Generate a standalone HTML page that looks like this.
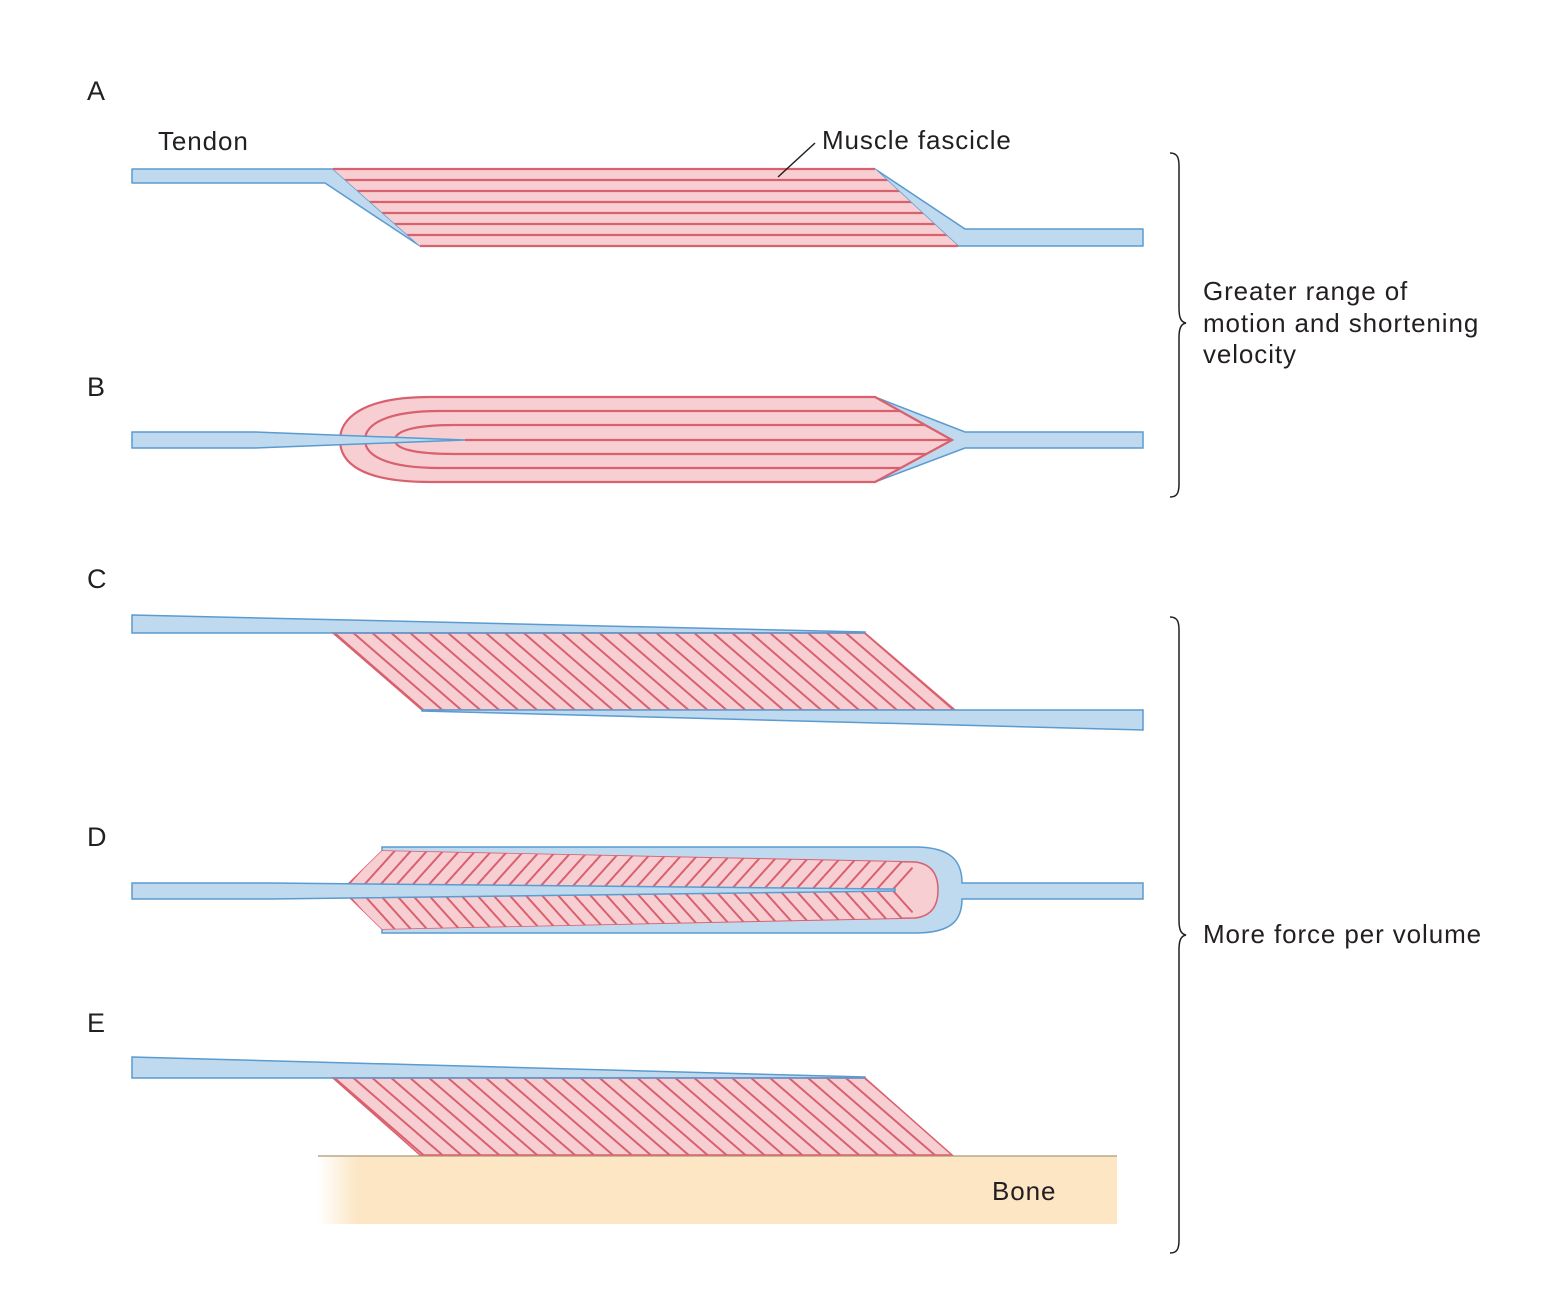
<!DOCTYPE html>
<html><head><meta charset="utf-8"><style>
html,body{margin:0;padding:0;background:#fff;}
svg{display:block;}
text{font-family:"Liberation Sans",sans-serif;fill:#231f20;}
</style></head><body>
<svg width="1563" height="1290" viewBox="0 0 1563 1290" xmlns="http://www.w3.org/2000/svg">
<defs>
<pattern id="pc" width="12.4" height="20" patternUnits="userSpaceOnUse" patternTransform="translate(333,633) rotate(-49.1)">
<rect width="12.4" height="20" fill="#f7cfd2"/><line x1="1" y1="0" x2="1" y2="20" stroke="#d9606e" stroke-width="2"/></pattern>
<pattern id="pe" width="12.4" height="20" patternUnits="userSpaceOnUse" patternTransform="translate(333,1078) rotate(-49.1)">
<rect width="12.4" height="20" fill="#f7cfd2"/><line x1="1" y1="0" x2="1" y2="20" stroke="#d9606e" stroke-width="2"/></pattern>
<pattern id="pdt" width="12" height="20" patternUnits="userSpaceOnUse" patternTransform="translate(342,890) rotate(42)">
<rect width="12" height="20" fill="#f7cfd2"/><line x1="1" y1="0" x2="1" y2="20" stroke="#d9606e" stroke-width="2"/></pattern>
<pattern id="pdb" width="12" height="20" patternUnits="userSpaceOnUse" patternTransform="translate(342,890) rotate(-42)">
<rect width="12" height="20" fill="#f7cfd2"/><line x1="1" y1="0" x2="1" y2="20" stroke="#d9606e" stroke-width="2"/></pattern>
<linearGradient id="bone" x1="0" x2="1" y1="0" y2="0">
<stop offset="0" stop-color="#fce6c4" stop-opacity="0"/><stop offset="0.05" stop-color="#fce6c4"/><stop offset="1" stop-color="#fce6c4"/></linearGradient>
<clipPath id="cA"><path d="M333,169 H875 L958,246 H420 Z"/></clipPath>
<clipPath id="cB"><path d="M875,397 H430 C360,397 340,420 340,440 C340,462 360,482 430,482 H875 L952,440 Z"/></clipPath>
<clipPath id="cDt"><rect x="300" y="840" width="700" height="50"/></clipPath>
<clipPath id="cDb"><rect x="300" y="890" width="700" height="50"/></clipPath>
</defs>

<!-- A -->
<g stroke="#5a9bd0" stroke-width="1.5" fill="#bfd9ee" stroke-linejoin="round">
<path d="M132,169 H333 L420,246 L325,183 H132 Z"/>
<path d="M875,169 L965,229 H1143 V246 H958 Z"/>
</g>
<path d="M333,169 H875 L958,246 H420 Z" fill="#f7cfd2"/>
<g clip-path="url(#cA)" stroke="#d9606e" stroke-width="2.2">
<line x1="300" y1="180" x2="1000" y2="180"/><line x1="300" y1="191" x2="1000" y2="191"/>
<line x1="300" y1="202" x2="1000" y2="202"/><line x1="300" y1="213" x2="1000" y2="213"/>
<line x1="300" y1="224" x2="1000" y2="224"/><line x1="300" y1="235" x2="1000" y2="235"/>
</g>
<line x1="333" y1="169" x2="875" y2="169" stroke="#d9606e" stroke-width="2.2"/>
<line x1="420" y1="246" x2="958" y2="246" stroke="#d9606e" stroke-width="2.2"/>

<!-- B -->
<path d="M875,397 L965,432 H1143 V448 H965 L875,482 Z" fill="#bfd9ee" stroke="#5a9bd0" stroke-width="1.5"/>
<path d="M875,397 H430 C360,397 340,420 340,440 C340,462 360,482 430,482 H875 L952,440 Z" fill="#f7cfd2" stroke="#d9606e" stroke-width="2.2"/>
<g clip-path="url(#cB)" fill="none" stroke="#d9606e" stroke-width="2.2">
<path d="M1000,411 H440 C385,411 365,425 365,440 C365,455 385,468 440,468 H1000"/>
<path d="M1000,425 H455 C410,425 395,432 395,440 C395,448 410,454 455,454 H1000"/>
<path d="M465,440 H1000"/>
</g>
<path d="M132,432 H255 L465,440 L255,448 H132 Z" fill="#bfd9ee" stroke="#5a9bd0" stroke-width="1.5"/>

<!-- C -->
<path d="M132,615 L865,632 L865,633 L132,633 Z" fill="#bfd9ee" stroke="#5a9bd0" stroke-width="1.5"/>
<path d="M333,633 H865 L955,710 H422 Z" fill="url(#pc)" stroke="#d9606e" stroke-width="1.5"/>
<path d="M422,710 H1143 V730 L422,711 Z" fill="#bfd9ee" stroke="#5a9bd0" stroke-width="1.5"/>
<line x1="333" y1="633" x2="865" y2="633" stroke="#5a9bd0" stroke-width="1.5"/>

<!-- D -->
<path d="M382,847 H915 C952,847 962,862 962,883 H1143 V899 H962 C962,920 952,933 915,933 H382 Z" fill="#bfd9ee" stroke="#5a9bd0" stroke-width="1.5"/>
<path d="M342,890 L382,851 L915,862 C933,864 938,876 938,890 C938,904 933,916 915,918 L382,929 Z" fill="#f7cfd2" stroke="#d9606e" stroke-width="1.5"/>
<g clip-path="url(#cDt)"><path d="M342,890 L382,851 L900,862 C915,864 925,876 895,890 Z" fill="url(#pdt)"/></g>
<g clip-path="url(#cDb)"><path d="M342,890 L382,929 L900,918 C915,916 925,904 895,890 Z" fill="url(#pdb)"/></g>
<path d="M132,883 H270 L895,889 L895,891 L270,899 H132 Z" fill="#bfd9ee" stroke="#5a9bd0" stroke-width="1.5"/>

<!-- E -->
<rect x="318" y="1156" width="799" height="68" fill="url(#bone)"/>
<line x1="318" y1="1156" x2="1117" y2="1156" stroke="#b8a98a" stroke-width="1.5"/>
<path d="M132,1057 L865,1077 L865,1078 L132,1078 Z" fill="#bfd9ee" stroke="#5a9bd0" stroke-width="1.5"/>
<path d="M333,1078 H865 L952,1155 H420 Z" fill="url(#pe)" stroke="#d9606e" stroke-width="1.5"/>
<line x1="333" y1="1078" x2="865" y2="1078" stroke="#5a9bd0" stroke-width="1.5"/>

<!-- braces -->
<g fill="none" stroke="#231f20" stroke-width="1.5">
<path d="M1170,153 C1177,153 1179,157 1179,166 V308 C1179,318 1181,322 1186,323 C1181,324 1179,328 1179,338 V484 C1179,493 1177,497 1170,497"/>
<path d="M1170,617 C1177,617 1179,621 1179,630 V920 C1179,930 1181,934 1186,935 C1181,936 1179,940 1179,950 V1240 C1179,1249 1177,1253 1170,1253"/>
</g>

<!-- labels -->
<g font-size="27">
<text x="87" y="100">A</text>
<text x="87" y="396">B</text>
<text x="87" y="588">C</text>
<text x="87" y="846">D</text>
<text x="87" y="1032">E</text>
</g>
<g font-size="26" letter-spacing="0.9">
<text x="158" y="150">Tendon</text>
<text x="822" y="149">Muscle fascicle</text>
<text x="1203" y="300">Greater range of</text>
<text x="1203" y="332">motion and shortening</text>
<text x="1203" y="363">velocity</text>
<text x="1203" y="943">More force per volume</text>
<text x="992" y="1200">Bone</text>
</g>
<line x1="778" y1="177" x2="815" y2="143" stroke="#231f20" stroke-width="1.5"/>
</svg>
</body></html>
